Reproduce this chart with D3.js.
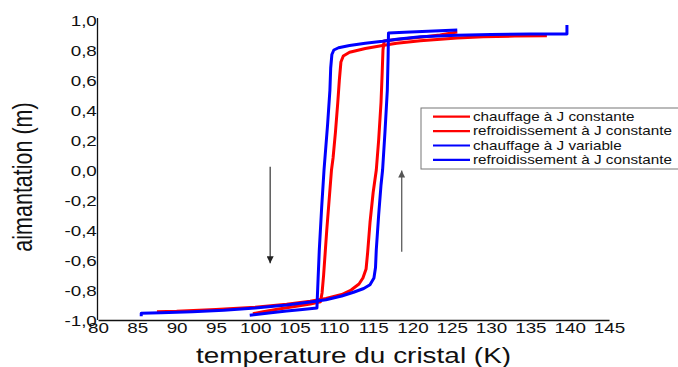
<!DOCTYPE html>
<html>
<head>
<meta charset="utf-8">
<script src="https://cdn.jsdelivr.net/npm/d3@7"></script>
<style>
  html, body { margin: 0; padding: 0; background: #fff; }
  svg { display: block; }
  text { font-family: "Liberation Sans", Arial, sans-serif; fill: #111; }
</style>
</head>
<body>
<svg id="chart" width="678" height="367"></svg>
<script>
// Temperature (K) and magnetisation (m) readings for each branch of the loop
const redHeating = [
  [87.5,-0.945],[90,-0.942],[95,-0.93],[100,-0.915],[104,-0.895],[107,-0.875],[109,-0.857],
  [111,-0.83],[112.2,-0.8],[113.2,-0.76],[113.7,-0.72],[114.1,-0.66],[114.3,-0.55],[114.6,-0.35],
  [115,-0.15],[115.4,0.0],[115.7,0.2],[116,0.45],[116.15,0.65],[116.25,0.8],[116.4,0.86],
  [118,0.87],[121,0.885],[123.5,0.9],[125.7,0.92]
];
const redCooling = [
  [137.1,0.895],[133,0.893],[129,0.888],[125.7,0.88],[121,0.862],[118,0.845],[116.2,0.83],
  [114,0.81],[112,0.785],[111.2,0.76],[110.9,0.72],[110.7,0.6],[110.5,0.45],[110.2,0.25],
  [109.9,0.08],[109.7,0.0],[109.4,-0.2],[109.1,-0.4],[108.9,-0.55],[108.7,-0.7],[108.5,-0.82],
  [108.3,-0.878],[107,-0.893],[105,-0.91],[103,-0.927],[101,-0.945],[99.7,-0.958]
];
const blueHeating = [
  [85.5,-0.975],[85.5,-0.955],[88,-0.952],[92,-0.945],[96,-0.935],[100,-0.92],[104,-0.9],
  [107,-0.88],[109,-0.865],[111,-0.84],[112.5,-0.815],[113.8,-0.79],[114.6,-0.765],[115.1,-0.72],
  [115.3,-0.65],[115.4,-0.53],[115.7,-0.3],[116,-0.1],[116.2,0.0],[116.5,0.25],[116.8,0.53],
  [116.9,0.75],[116.95,0.913],[119,0.918],[122,0.925],[125.7,0.933]
];
const blueCooling = [
  [139.65,0.967],[139.65,0.907],[135,0.906],[130,0.904],[125.7,0.898],[121,0.888],[118,0.872],
  [116.2,0.858],[114,0.845],[112,0.83],[110.6,0.815],[110,0.8],[109.75,0.77],[109.6,0.68],
  [109.5,0.533],[109.2,0.3],[108.75,0.0],[108.45,-0.25],[108.15,-0.533],[108.0,-0.72],
  [107.9,-0.85],[107.85,-0.92],[106,-0.93],[104,-0.94],[102,-0.952],[99.3,-0.968]
];

const seriesNames = [
  "chauffage à J constante",
  "refroidissement à J constante",
  "chauffage à J variable",
  "refroidissement à J constante"
];
const seriesColors = ["#ff0000", "#ff0000", "#0000ff", "#0000ff"];

const xTickValues = [80, 85, 90, 95, 100, 105, 110, 115, 120, 125, 130, 135, 140, 145];
const yTickValues = [-1.0, -0.8, -0.6, -0.4, -0.2, 0.0, 0.2, 0.4, 0.6, 0.8, 1.0];

// Direction arrows: [temperature, start m, end m]
const coolingArrow = [101.9, 0.022, -0.622];
const heatingArrow = [118.63, -0.545, -0.004];

const SX = 1.3; // horizontal widening applied to every label

const svg = d3.select("#chart");
const x = d3.scaleLinear().domain([80, 145]).range([98, 609]);
const y = d3.scaleLinear().domain([-1, 1]).range([320, 20]);

const fmt = v => d3.format(".1f")(v).replace(".", ",").replace("−", "-");

// Axes (no tick marks, just lines and labels)
const xAxis = svg.append("g").attr("transform", `translate(0,${y(-1)})`)
  .call(d3.axisBottom(x).tickValues(xTickValues).tickSize(0).tickPadding(0).tickFormat(d => d));
xAxis.select(".domain").attr("stroke", "#111").attr("stroke-width", 1.3);
xAxis.selectAll("text")
  .attr("y", 13).attr("dy", 0)
  .attr("font-size", 14.5).attr("fill", "#111")
  .attr("font-family", "Liberation Sans, Arial, sans-serif")
  .attr("transform", `scale(${SX},1)`);

const yAxis = svg.append("g").attr("transform", `translate(${x(80) - 0.5},0)`)
  .call(d3.axisLeft(y).tickValues(yTickValues).tickSize(0).tickPadding(0).tickFormat(fmt));
yAxis.select(".domain").attr("stroke", "#111").attr("stroke-width", 1.3)
  .attr("d", `M0,${y(1) - 2}V${y(-1)}`);
yAxis.selectAll("text")
  .attr("x", -0.5).attr("dy", "0.36em")
  .attr("font-size", 14.5).attr("fill", "#111")
  .attr("font-family", "Liberation Sans, Arial, sans-serif")
  .attr("transform", `scale(${SX},1)`);

// Axis titles
svg.append("text")
  .attr("transform", `translate(${(x(80) + x(145)) / 2},362.5) scale(${SX},1)`)
  .attr("text-anchor", "middle").attr("font-size", 21.5)
  .text("temperature du cristal (K)");
svg.append("text")
  .attr("transform", `translate(32,177) scale(${SX},1) rotate(-90)`)
  .attr("text-anchor", "middle").attr("font-size", 21.5)
  .text("aimantation (m)");

// Curves
const line = d3.line().x(d => x(d[0])).y(d => y(d[1]));
[redHeating, redCooling, blueHeating, blueCooling].forEach((s, i) => {
  svg.append("path").datum(s)
    .attr("d", line)
    .attr("fill", "none")
    .attr("stroke", seriesColors[i])
    .attr("stroke-width", 3)
    .attr("stroke-linejoin", "round");
});

// Arrows
const defs = svg.append("defs");
function marker(id, color) {
  defs.append("marker").attr("id", id)
    .attr("viewBox", "0 0 10 10").attr("refX", 10).attr("refY", 5)
    .attr("markerUnits", "userSpaceOnUse")
    .attr("markerWidth", 8).attr("markerHeight", 7).attr("orient", "auto")
    .append("path").attr("d", "M0,0L10,5L0,10Z").attr("fill", color);
}
marker("headDown", "#222");
marker("headUp", "#555");
svg.append("line")
  .attr("x1", x(coolingArrow[0])).attr("x2", x(coolingArrow[0]))
  .attr("y1", y(coolingArrow[1])).attr("y2", y(coolingArrow[2]))
  .attr("stroke", "#333").attr("stroke-width", 1.2)
  .attr("marker-end", "url(#headDown)");
svg.append("line")
  .attr("x1", x(heatingArrow[0])).attr("x2", x(heatingArrow[0]))
  .attr("y1", y(heatingArrow[1])).attr("y2", y(heatingArrow[2]))
  .attr("stroke", "#666").attr("stroke-width", 1.4)
  .attr("marker-end", "url(#headUp)");

// Legend
const legend = svg.append("g").attr("transform", "translate(421,108)");
legend.append("rect").attr("x", 0).attr("y", 0).attr("width", 265).attr("height", 61)
  .attr("fill", "#fff").attr("stroke", "#777").attr("stroke-width", 1);
seriesNames.forEach((name, i) => {
  const cy = 8.7 + i * 14.4;
  legend.append("line").attr("x1", 12).attr("x2", 49).attr("y1", cy).attr("y2", cy)
    .attr("stroke", seriesColors[i]).attr("stroke-width", 2.2);
  legend.append("text")
    .attr("transform", `translate(52,${cy + 4.3}) scale(1.27,1)`)
    .attr("font-size", 12)
    .text(name);
});
</script>
</body>
</html>
